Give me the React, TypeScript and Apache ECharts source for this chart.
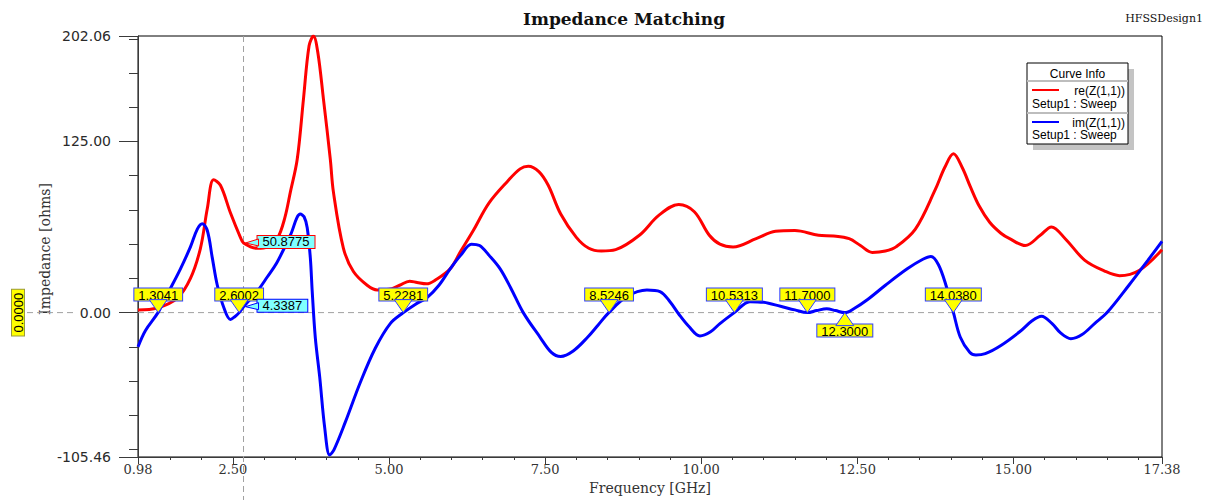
import React, { useEffect, useRef } from "react";
import * as echarts from "echarts";

// re(Z(1,1)) [frequency GHz, ohms]
const reData: number[][] = [
  [0.98, 2], [1.29, 3.4], [1.61, 10.6], [1.82, 25], [1.98, 47], [2.09, 76], [2.19, 97], [2.3, 93],
  [2.46, 73], [2.62, 55], [2.67, 50.9], [2.89, 47], [3.05, 48], [3.21, 54], [3.33, 69], [3.42, 88],
  [3.53, 112], [3.63, 156], [3.72, 195], [3.79, 202], [3.86, 190], [3.95, 156], [4.06, 112], [4.11, 88],
  [4.27, 47], [4.43, 30], [4.65, 20], [4.81, 16.6], [5.0, 17], [5.17, 20], [5.33, 23], [5.45, 22],
  [5.6, 21], [5.75, 24], [5.98, 32], [6.15, 45], [6.35, 60], [6.6, 80], [6.9, 96], [7.1, 105],
  [7.23, 107], [7.4, 103], [7.55, 93], [7.75, 72], [8.0, 55], [8.2, 47], [8.4, 45], [8.63, 46],
  [9.01, 56.5], [9.32, 71], [9.64, 79], [9.89, 73.7], [10.13, 56.5], [10.3, 50], [10.51, 48], [10.88, 54],
  [11.19, 59.4], [11.5, 60], [11.88, 56.5], [12.12, 56], [12.37, 54], [12.55, 49], [12.74, 44], [12.95, 45],
  [13.12, 48], [13.43, 61], [13.75, 90], [13.9, 106], [14.04, 116], [14.18, 106], [14.31, 92], [14.45, 78],
  [14.62, 66], [14.8, 58], [14.94, 54], [15.19, 49], [15.43, 56.5], [15.61, 62.6], [15.83, 54], [16.14, 38.4],
  [16.46, 30.4], [16.7, 27], [17.02, 31], [17.38, 46],
];

// im(Z(1,1)) [frequency GHz, ohms]
const imData: number[][] = [
  [0.98, -25], [1.1, -13], [1.3, 0], [1.48, 16], [1.66, 32], [1.82, 48], [1.93, 61], [2.01, 65],
  [2.09, 60], [2.17, 40], [2.25, 20], [2.36, 3], [2.46, -5], [2.53, -3], [2.6, 0], [2.67, 4.34],
  [2.89, 15.6], [3.05, 26], [3.21, 37], [3.42, 56.5], [3.58, 72], [3.64, 70], [3.69, 62], [3.74, 40],
  [3.77, 15.6], [3.82, -18.5], [3.89, -47], [3.97, -84], [4.05, -104], [4.12, -100], [4.3, -80], [4.54, -51],
  [4.78, -26], [5.02, -8], [5.23, 0], [5.42, 6], [5.61, 11], [5.8, 20], [5.98, 32], [6.15, 42],
  [6.32, 50], [6.45, 49], [6.6, 42], [6.78, 32], [6.95, 18], [7.15, 0], [7.42, -18], [7.6, -29],
  [7.75, -32], [7.95, -28], [8.18, -18], [8.35, -9], [8.52, 0], [8.81, 11.8], [9.13, 16.6], [9.34, 15.4],
  [9.5, 8], [9.64, -1], [9.8, -10], [9.98, -17], [10.15, -14], [10.3, -8], [10.53, 0], [10.78, 8],
  [11.0, 7.5], [11.27, 4.6], [11.5, 2], [11.7, 0], [11.85, 1.5], [12.01, 2.8], [12.15, 1.5], [12.3, 0],
  [12.45, 3], [12.66, 9.4], [12.95, 20], [13.3, 32], [13.55, 39], [13.68, 41], [13.8, 35], [13.92, 20],
  [14.04, 0], [14.15, -18], [14.3, -29], [14.4, -31], [14.55, -30], [14.8, -24], [15.1, -14], [15.3, -6],
  [15.45, -2.7], [15.62, -8], [15.76, -15], [15.92, -19], [16.1, -16], [16.3, -8], [16.5, 0], [16.85, 20],
  [17.15, 38], [17.38, 52],
];

// Markers on im(Z) zero crossings: [freq, value, above(1)/below(0)]
const zeroMarkers: number[][] = [
  [1.3041, 0, 1], [2.6002, 0, 1], [5.2281, 0, 1], [8.5246, 0, 1], [10.5313, 0, 1],
  [11.7, 0, 1], [12.3, 0, 0], [14.038, 0, 1],
];

// Cursor readouts: [freq, value, curve index]
const cursorFreq = 2.67;
const cursorMarkers: number[][] = [
  [cursorFreq, 50.8775, 0],
  [cursorFreq, 4.3387, 1],
];

const xMajorTicks = [0.98, 2.5, 5, 7.5, 10, 12.5, 15, 17.38];
const xMinorTicks = [1.5, 2.0, 3.0, 3.5, 4.0, 4.5, 5.5, 6.0, 6.5, 7.0, 8.0, 8.5, 9.0, 9.5, 10.5, 11.0, 11.5, 12.0, 13.0, 13.5, 14.0, 14.5, 15.5, 16.0, 16.5, 17.0];
const yMajorTicks = [-105.46, 0, 125, 202.06];
const yMinorTicks = [-100, -75, -50, -25, 25, 50, 75, 100, 150, 175, 200];

const X_MIN = 0.98;
const X_MAX = 17.38;
const Y_MIN = -105.46;
const Y_MAX = 202.06;

const RED = "#ff0000";
const BLUE = "#0000ff";
const AXIS = "#3a3a3a";
const MARK_FONT = "13px 'Liberation Sans', Arial, sans-serif";

export default function App() {
  const ref = useRef<HTMLDivElement>(null);

  useEffect(() => {
    if (!ref.current) return;
    const chart = echarts.init(ref.current, null, { renderer: "svg" });

    const option: any = {
      animation: false,
      backgroundColor: "#ffffff",
      grid: {
        left: 138,
        right: 45,
        top: 36,
        bottom: 40,
        show: true,
        borderColor: "#000",
        borderWidth: 1,
        backgroundColor: "#fff",
      },
      xAxis: [
        {
          type: "value",
          min: X_MIN,
          max: X_MAX,
          splitLine: { show: false },
          axisLine: { show: true, onZero: false, lineStyle: { color: AXIS, width: 1 } },
          axisTick: { show: true, customValues: xMajorTicks, length: 7, lineStyle: { color: AXIS } },
          axisLabel: {
            show: true,
            customValues: xMajorTicks,
            formatter: (v: number) => v.toFixed(2),
            color: "#333",
            fontFamily: "DejaVu Serif",
            fontSize: 13,
            margin: 6,
            showMinLabel: true,
            showMaxLabel: true,
          },
          name: "Frequency [GHz]",
          nameLocation: "middle",
          nameGap: 24,
          nameTextStyle: { color: "#333", fontFamily: "DejaVu Serif", fontSize: 14 },
        },
        {
          type: "value",
          min: X_MIN,
          max: X_MAX,
          position: "bottom",
          splitLine: { show: false },
          axisLine: { show: false, onZero: false },
          axisTick: { show: true, customValues: xMinorTicks, length: 3, lineStyle: { color: AXIS } },
          axisLabel: { show: false },
        },
      ],
      yAxis: [
        {
          type: "value",
          min: Y_MIN,
          max: Y_MAX,
          splitLine: { show: false },
          axisLine: { show: true, onZero: false, lineStyle: { color: AXIS, width: 1 } },
          axisTick: { show: true, customValues: yMajorTicks, length: 19, lineStyle: { color: AXIS } },
          axisLabel: {
            show: true,
            customValues: yMajorTicks,
            formatter: (v: number) => v.toFixed(2),
            color: "#2a2a2a",
            fontFamily: "DejaVu Sans",
            fontSize: 14,
            margin: 27,
            showMinLabel: true,
            showMaxLabel: true,
          },
        },
        {
          type: "value",
          min: Y_MIN,
          max: Y_MAX,
          position: "left",
          splitLine: { show: false },
          axisLine: { show: false, onZero: false },
          axisTick: { show: true, customValues: yMinorTicks, length: 9, lineStyle: { color: AXIS } },
          axisLabel: { show: false },
        },
      ],
      series: [
        {
          type: "line",
          name: "re(Z(1,1))",
          data: reData,
          showSymbol: false,
          symbol: "none",
          smooth: 0.35,
          lineStyle: { color: RED, width: 3 },
          z: 3,
        },
        {
          type: "line",
          name: "im(Z(1,1))",
          data: imData,
          showSymbol: false,
          symbol: "none",
          smooth: 0.35,
          lineStyle: { color: BLUE, width: 3 },
          z: 4,
        },
        {
          type: "custom",
          name: "zeroMarkers",
          data: zeroMarkers,
          z: 10,
          renderItem: (params: any, api: any) => {
            const f = api.value(0);
            const v = api.value(1);
            const above = api.value(2) === 1;
            const p = api.coord([f, v]);
            const px = p[0];
            const py = p[1];
            const th = 13;
            const tw = 18;
            const base = above ? py - th : py + th;
            return {
              type: "group",
              children: [
                {
                  type: "text",
                  x: px,
                  y: above ? base + 1 : base - 1,
                  style: {
                    text: f.toFixed(4),
                    fill: "#000",
                    font: MARK_FONT,
                    align: "center",
                    verticalAlign: above ? "bottom" : "top",
                    backgroundColor: "#ffff00",
                    borderColor: "#2f3fff",
                    borderWidth: 1,
                    padding: [0, 4, -1, 4],
                  },
                },
                {
                  type: "polygon",
                  shape: { points: [[px - tw / 2, base], [px + tw / 2, base], [px, py]] },
                  style: { fill: "#ffff00", stroke: "#2f3fff", lineWidth: 1 },
                },
              ],
            };
          },
        },
        {
          type: "custom",
          name: "cursorMarkers",
          data: cursorMarkers,
          z: 10,
          renderItem: (params: any, api: any) => {
            const v = api.value(1);
            const idx = api.value(2);
            const p = api.coord([api.value(0), v]);
            const px = p[0];
            const py = p[1];
            const border = idx === 0 ? RED : BLUE;
            const bx = px + 14;
            return {
              type: "group",
              children: [
                {
                  type: "text",
                  x: bx,
                  y: py - 1,
                  style: {
                    text: v.toFixed(4),
                    fill: "#000",
                    font: MARK_FONT,
                    align: "left",
                    verticalAlign: "middle",
                    backgroundColor: "#80ffff",
                    borderColor: border,
                    borderWidth: 1,
                    padding: [0, 5, -1, 5],
                  },
                },
                {
                  type: "polygon",
                  shape: { points: [[px + 2, py], [bx + 1, py - 4], [bx + 1, py + 3]] },
                  style: { fill: "#80ffff", stroke: border, lineWidth: 1 },
                },
              ],
            };
          },
        },
      ],
    };

    chart.setOption(option);

    const cx = chart.convertToPixel({ xAxisIndex: 0 }, cursorFreq) as number;
    const y0 = chart.convertToPixel({ yAxisIndex: 0 }, 0) as number;
    const dash = { stroke: "#a0a0a0", lineWidth: 1, lineDash: [6, 4] };
    const legendFont = "12px 'Liberation Sans', Arial, sans-serif";

    chart.setOption({
      graphic: [
        { type: "line", z: 1, shape: { x1: cx, y1: 36, x2: cx, y2: 500 }, style: dash },
        { type: "line", z: 1, shape: { x1: 27, y1: y0, x2: 76, y2: y0 }, style: dash },
        { type: "line", z: 1, shape: { x1: 138, y1: y0, x2: 1162, y2: y0 }, style: dash },
        {
          type: "text",
          x: 624,
          y: 19,
          style: {
            text: "Impedance Matching",
            font: "bold 17px 'DejaVu Serif', serif",
            fill: "#111",
            align: "center",
            verticalAlign: "middle",
          },
        },
        {
          type: "text",
          x: 1203,
          y: 18,
          style: {
            text: "HFSSDesign1",
            font: "11px 'DejaVu Serif', serif",
            fill: "#111",
            align: "right",
            verticalAlign: "middle",
          },
        },
        {
          type: "text",
          x: 45,
          y: 249,
          rotation: Math.PI / 2,
          style: {
            text: "Impedance [ohms]",
            font: "14px 'DejaVu Serif', serif",
            fill: "#333",
            align: "center",
            verticalAlign: "middle",
          },
        },
        {
          type: "text",
          x: 18,
          y: y0,
          rotation: Math.PI / 2,
          z: 5,
          style: {
            text: "0.0000",
            font: "13px 'Liberation Sans', Arial, sans-serif",
            fill: "#000",
            align: "center",
            verticalAlign: "middle",
            backgroundColor: "#ffff00",
            borderColor: "#9a9a40",
            borderWidth: 1,
            padding: [0, 3, -1, 3],
          },
        },
        {
          type: "group",
          z: 20,
          children: [
            { type: "rect", shape: { x: 1033, y: 69, width: 101, height: 81 }, style: { fill: "#c4c4c4" } },
            { type: "rect", shape: { x: 1027, y: 63, width: 101, height: 81 }, style: { fill: "#fff", stroke: "#000", lineWidth: 1 } },
            { type: "text", x: 1077.5, y: 73.5, style: { text: "Curve Info", font: legendFont, fill: "#000", align: "center", verticalAlign: "middle" } },
            { type: "line", shape: { x1: 1027, y1: 81, x2: 1128, y2: 81 }, style: { stroke: "#bdbdbd", lineWidth: 2 } },
            { type: "line", shape: { x1: 1032, y1: 90, x2: 1059, y2: 90 }, style: { stroke: RED, lineWidth: 2 } },
            { type: "text", x: 1125, y: 91, style: { text: "re(Z(1,1))", font: legendFont, fill: "#000", align: "right", verticalAlign: "middle" } },
            { type: "text", x: 1032, y: 103.5, style: { text: "Setup1 : Sweep", font: legendFont, fill: "#000", align: "left", verticalAlign: "middle" } },
            { type: "line", shape: { x1: 1027, y1: 113, x2: 1128, y2: 113 }, style: { stroke: "#bdbdbd", lineWidth: 2 } },
            { type: "line", shape: { x1: 1032, y1: 122, x2: 1059, y2: 122 }, style: { stroke: BLUE, lineWidth: 2 } },
            { type: "text", x: 1125, y: 122.5, style: { text: "im(Z(1,1))", font: legendFont, fill: "#000", align: "right", verticalAlign: "middle" } },
            { type: "text", x: 1032, y: 135, style: { text: "Setup1 : Sweep", font: legendFont, fill: "#000", align: "left", verticalAlign: "middle" } },
          ],
        },
      ],
    });

    return () => chart.dispose();
  }, []);

  return (
    <div
      ref={ref}
      style={{ position: "fixed", left: 0, top: 0, width: 1207, height: 500, background: "#fff" }}
    />
  );
}
